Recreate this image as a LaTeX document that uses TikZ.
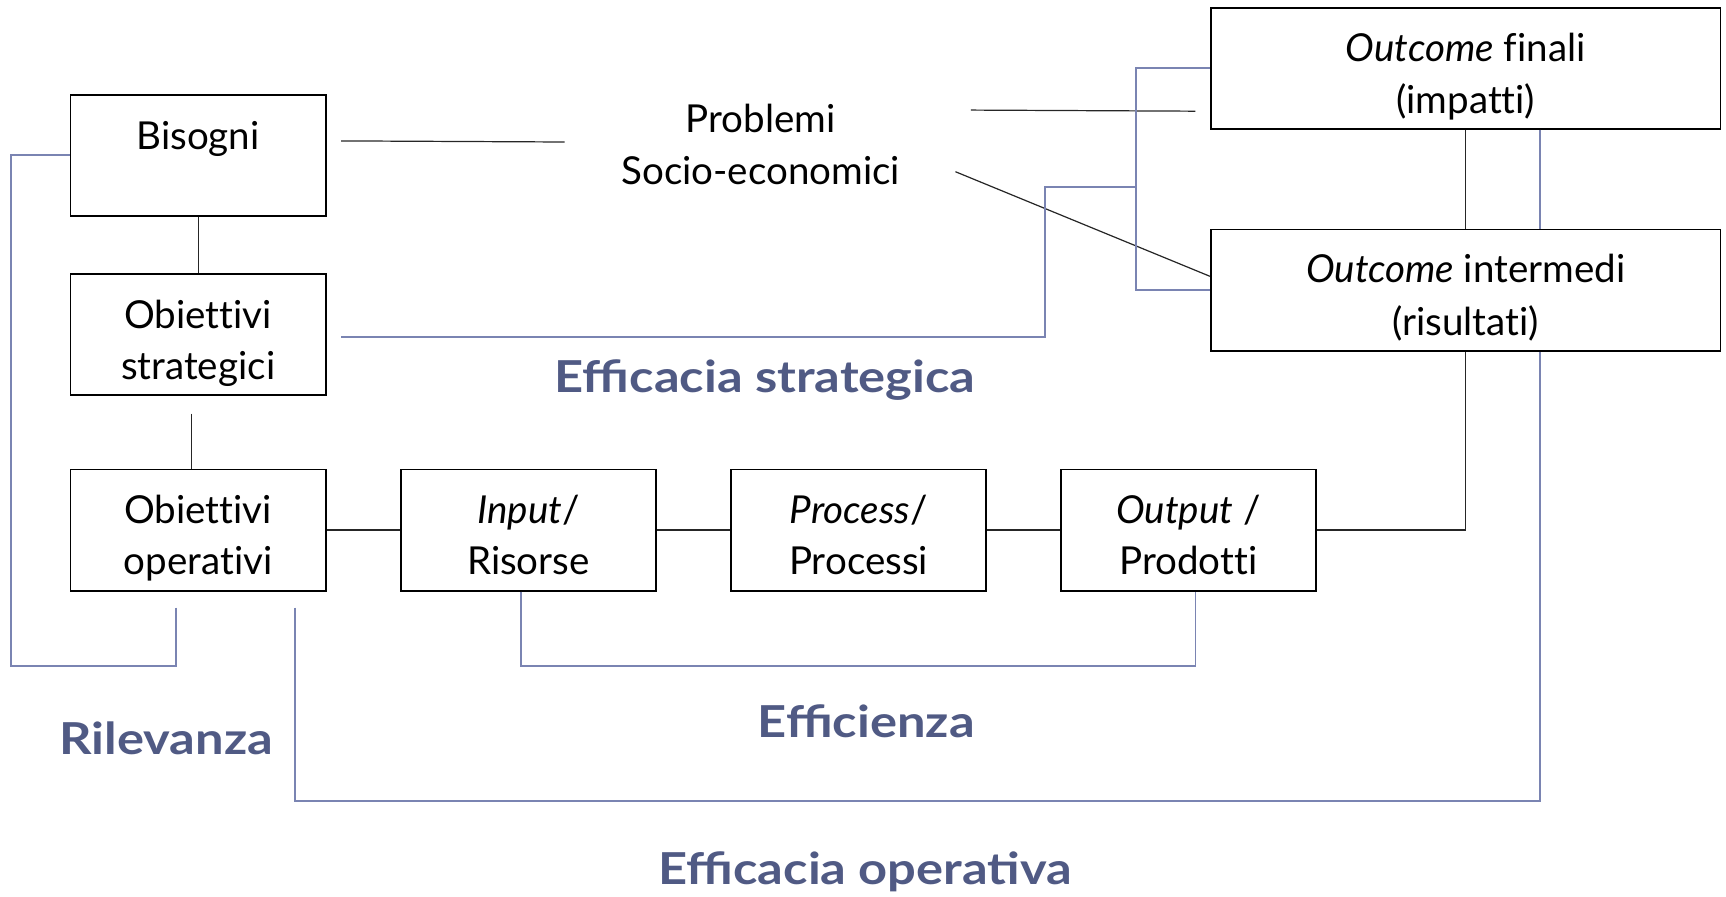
\documentclass[tikz,border=0pt]{standalone}
\usepackage{fontspec}
\setmainfont{Lato}[Ligatures=NoCommon]
\newfontfamily\measurefont[FakeStretch=1.15]{Lato}
\usetikzlibrary{calc}
\definecolor{slate}{RGB}{80,90,132}
\definecolor{linkblue}{RGB}{122,132,178}
% fixed top height and bottom depth so every box sets its lines alike
\newcommand{\hi}{\rule{0pt}{45pt}}
\newcommand{\lo}{\rule[-10pt]{0pt}{0pt}}
\begin{document}
\begin{tikzpicture}[x=1pt,y=1pt,
  box/.style={draw=black, line width=1.7pt, minimum width=232pt, minimum height=110pt,
    inner sep=0pt, align=center, font=\fontsize{35}{46}\selectfont},
  plain/.style={align=center, inner sep=0pt, font=\fontsize{35}{47}\selectfont},
  measure/.style={inner sep=0pt, font=\measurefont\bfseries\fontsize{40}{46}\selectfont, text=slate},
  link/.style={draw=black!85, line width=1.1pt},
  blink/.style={draw=linkblue, line width=1.6pt}]
\useasboundingbox (0,0) rectangle (1568,-814);

% boxes
\node[box] (bis)  at (180,-141)    {\hi Bisogni\\\lo};
\node[box] (os)   at (180,-304)    {\hi Obiettivi\\strategici\lo};
\node[box] (oo)   at (180,-481.5)  {\hi Obiettivi\\operativi\lo};
\node[box] (inp)  at (480,-481.5)  {\hi\textit{Input}/\\Risorse\lo};
\node[box] (proc) at (780,-481.5)  {\hi\textit{Process}/\\Processi\lo};
\node[box] (outp) at (1079.5,-481.5) {\hi\textit{Output} /\\Prodotti\lo};
\node[box, minimum width=463pt, font=\fontsize{35}{48}\selectfont] (ofin) at (1331.5,-62)
  {\hi\textit{Outcome} finali\\(impatti)\lo};
\node[box, minimum width=463pt, font=\fontsize{35}{48}\selectfont] (oint) at (1331.5,-263.5)
  {\hi\textit{Outcome} intermedi\\(risultati)\lo};
\node[plain] (prob) at (691,-131) {Problemi\\Socio-economici};

% measure labels
\node[measure] (lstr) at (695,-345) {Efficacia strategica};
\node[measure] (lril) at (151,-671) {Rilevanza};
\node[measure] (leff) at (787,-655) {Efficienza};
\node[measure] (lope) at (786,-792) {Efficacia operativa};

% helper points
\coordinate (b1) at (310,-128);
\coordinate (b2) at (513,-129);
\coordinate (p1) at (882,-100);
\coordinate (p2) at (1086,-101);
\coordinate (p3) at (868,-156);
\coordinate (vx) at (1399,0);
\coordinate (rilA) at (160,-552);
\coordinate (strA) at (310,-306);
\coordinate (opeA) at (268,-552);

% black links
\draw[link] (b1) -- (b2);
\draw[link] (p1) -- (p2);
\draw[link] (p3) -- ([yshift=12.5pt]oint.west);
\draw[link] (bis.south) -- (os.north);
\draw[link] ([shift={(-6,-16)}]os.south) -- ([xshift=-6pt]oo.north);
\draw[link] (oo.east) -- (inp.west);
\draw[link] (inp.east) -- (proc.west);
\draw[link] (proc.east) -- (outp.west);
\draw[link] (outp.east) -| (oint.south);
\draw[link] (ofin.south) -- (oint.north);

% blue links
\draw[blink] (rilA) -- (160,-605) -| (10,-141) -- (bis.west);
\draw[blink] (strA) -- (949,-306) |- (1032,-170);
\draw[blink] (ofin.west) -- (1032,-62) -- (1032,-263.5) -- (oint.west);
\draw[blink] (ofin.south -| vx) -- (oint.north -| vx);
\draw[blink] (opeA) |- (1399,-728) -- (oint.south -| vx);
\draw[blink] ([xshift=-7pt]inp.south) -- ++(0,-68) -| ([xshift=6.5pt]outp.south);
\end{tikzpicture}
\end{document}
